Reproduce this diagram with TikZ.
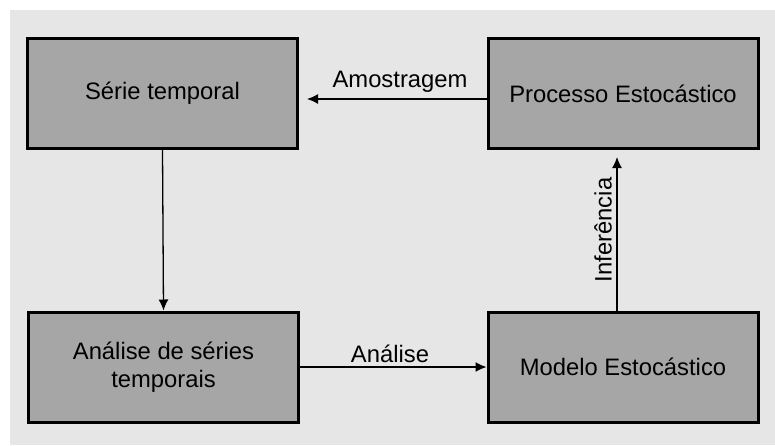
\documentclass[tikz,border=0pt]{standalone}
\usepackage{fontspec}
\setmainfont{Liberation Sans}
\usetikzlibrary{calc,arrows.meta}
\definecolor{panel}{HTML}{E6E6E6}
\definecolor{boxfill}{HTML}{A6A6A6}
\begin{document}
\begin{tikzpicture}[x=1pt,y=-1pt,
  box/.style={draw=black,fill=boxfill,line width=3pt,minimum width=270pt,minimum height=110pt,inner sep=0pt,align=center,font=\fontsize{23.8}{28}\selectfont},
  arr/.style={line width=1.3pt,-{Latex[length=11pt,width=10pt]}},
  lbl/.style={font=\fontsize{23.8}{28}\selectfont,inner sep=0pt}]
\useasboundingbox (0,0) rectangle (775,445);
\fill[white] (0,0) rectangle (775,445);
\fill[panel] (10,10) rectangle (775,445);
\node[box] (s) at (162.5,93.5) {Série temporal};
\node[box] (p) at (623,93.5) {Processo Estocástico};
\node[box] (a) at (163.5,367) {Análise de séries\\temporais};
\node[box] (m) at (623,367) {Modelo Estocástico};
\draw[arr] ($(p.west)+(0,5.5)$) -- ($(s.east)+(8,5.5)$);
\draw[arr] (s.south) -- (a.north);
\draw[arr] (a.east) -- (m.west);
\draw[arr] ($(m.north)+(-6,0)$) -- ($(p.south)+(-6,7)$);
\node[lbl] (l1) at (400,82) {Amostragem};
\node[lbl] (l2) at (390,354) {Análise};
\node[lbl,rotate=90] (l3) at (603,230) {Inferência};
\end{tikzpicture}
\end{document}
